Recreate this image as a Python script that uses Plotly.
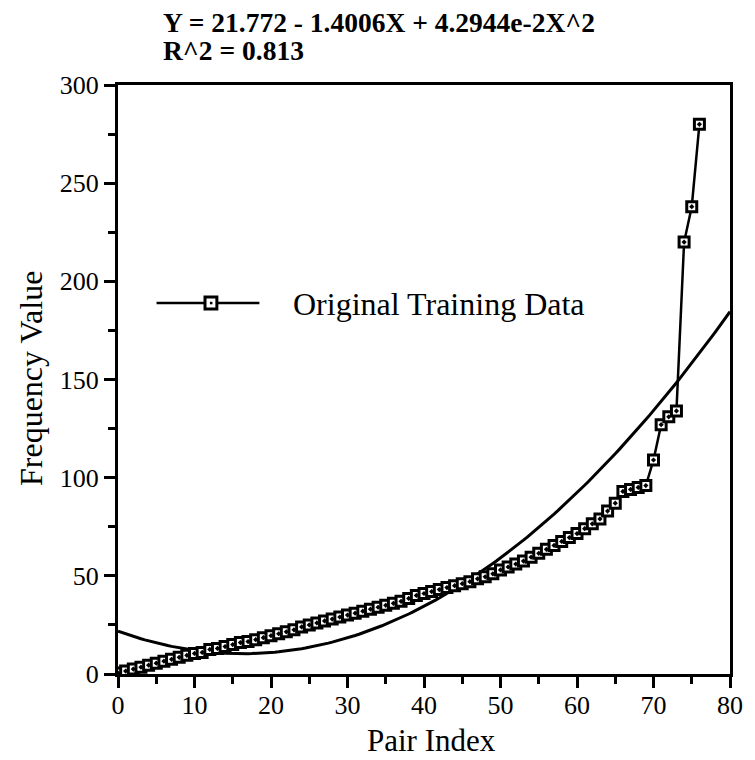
import numpy as np
import plotly.graph_objects as go

# Training pairs: index and observed frequency value
pair_index = list(range(77))
frequency = [
    0.5, 1.5, 2.5, 3.5, 4.5, 5.5, 6.5, 7.5, 8.5, 9.5,
    10.5, 11.0, 12.5, 13.0, 14.0, 15.0, 16.0, 16.5, 17.5, 18.5,
    19.5, 20.5, 21.5, 22.5, 24.0, 25.0, 26.0, 27.0, 28.0, 29.0,
    30.0, 31.0, 32.0, 33.0, 34.0, 35.0, 36.0, 37.0, 38.5, 40.0,
    41.0, 42.0, 43.0, 44.0, 45.0, 46.0, 47.0, 48.5, 49.5, 51.0,
    53.0, 54.5, 56.0, 57.5, 59.5, 61.5, 63.5, 65.5, 67.5, 69.5,
    71.5, 74.0, 76.5, 79.0, 83.0, 87.0, 93.0, 94.0, 95.0, 96.0,
    109.0, 127.0, 131.0, 134.0, 220.0, 238.0, 280.0,
]

# Quadratic fit coefficients (Y = c0 + c1*X + c2*X^2)
fit_c0 = 21.772
fit_c1 = -1.4006
fit_c2 = 4.2944e-2
r_squared = 0.813

x_ticks = [0, 10, 20, 30, 40, 50, 60, 70, 80]
y_ticks = [0, 50, 100, 150, 200, 250, 300]

fit_x = np.linspace(0, 80, 161)
fit_y = fit_c0 + fit_c1 * fit_x + fit_c2 * fit_x ** 2

SERIF = "Liberation Serif, Times New Roman, serif"
W, H = 755, 760
L, R, T, B = 118, 18, 85, 86
PW, PH = W - L - R, H - T - B


def px_x(p):
    return (p - L) / PW


def px_y(p):
    return (H - B - p) / PH


fig = go.Figure()

fig.add_trace(go.Scatter(
    x=fit_x, y=fit_y, mode="lines",
    line=dict(color="black", width=3),
    showlegend=False, hoverinfo="skip",
))

fig.add_trace(go.Scatter(
    x=pair_index, y=frequency, mode="lines+markers",
    name="Original Training Data",
    line=dict(color="black", width=2.5),
    marker=dict(symbol="square-dot", size=10, color="white",
                line=dict(color="black", width=3)),
    showlegend=False,
))

# Legend sample: line with a boxed marker, then the label
leg_y = px_y(303)
fig.add_shape(type="line", xref="paper", yref="paper",
              x0=px_x(157), x1=px_x(261), y0=leg_y, y1=leg_y,
              line=dict(color="black", width=2.5))
fig.add_shape(type="rect", xref="paper", yref="paper",
              x0=px_x(206), x1=px_x(218), y0=px_y(309), y1=px_y(297),
              line=dict(color="black", width=3), fillcolor="white")
fig.add_shape(type="rect", xref="paper", yref="paper",
              x0=px_x(211), x1=px_x(213.5), y0=px_y(304.3), y1=px_y(301.8),
              line=dict(color="black", width=0), fillcolor="black")
fig.add_annotation(xref="paper", yref="paper", x=px_x(293), y=px_y(304),
                   xanchor="left", yanchor="middle", showarrow=False,
                   text="Original Training Data",
                   font=dict(family=SERIF, size=32, color="black"))

# Two-line title with the fitted equation
fig.add_annotation(xref="paper", yref="paper", x=px_x(161), y=px_y(23),
                   xanchor="left", yanchor="middle", showarrow=False,
                   text="<b>Y = %.3f - %.4fX + %.4fe-2X^2</b>" % (fit_c0, -fit_c1, fit_c2 * 100),
                   font=dict(family=SERIF, size=27.5, color="black"))
fig.add_annotation(xref="paper", yref="paper", x=px_x(161), y=px_y(50),
                   xanchor="left", yanchor="middle", showarrow=False,
                   text="<b>R^2 = %.3f</b>" % r_squared,
                   font=dict(family=SERIF, size=27.5, color="black"))

# Axis titles
fig.add_annotation(xref="paper", yref="paper", x=px_x(30), y=px_y(378),
                   xanchor="center", yanchor="middle", showarrow=False,
                   textangle=-90, text="Frequency Value",
                   font=dict(family=SERIF, size=32, color="black"))
fig.add_annotation(xref="paper", yref="paper", x=px_x(435), y=px_y(740),
                   xanchor="center", yanchor="middle", showarrow=False,
                   text="Pair Index",
                   font=dict(family=SERIF, size=31, color="black"))

axis_common = dict(
    showline=True, linecolor="black", linewidth=3, mirror=True,
    showgrid=False, zeroline=False,
    ticks="outside", tickcolor="black", tickwidth=3, ticklen=11,
    tickfont=dict(family=SERIF, size=26, color="black"),
)

fig.update_layout(
    width=W, height=H,
    margin=dict(l=L, r=R, t=T, b=B),
    paper_bgcolor="white", plot_bgcolor="white",
    showlegend=False,
    xaxis=dict(range=[0, 80], tickvals=x_ticks, ticktext=[str(v) for v in x_ticks],
               ticklabelstandoff=-5,
               minor=dict(dtick=5, ticks="outside", ticklen=7, tickwidth=3,
                          tickcolor="black", showgrid=False),
               **axis_common),
    yaxis=dict(range=[0, 300], tickvals=y_ticks, ticktext=[str(v) for v in y_ticks],
               minor=dict(dtick=25, ticks="outside", ticklen=7, tickwidth=3,
                          tickcolor="black", showgrid=False),
               **axis_common),
)

fig.write_html("out.html")
